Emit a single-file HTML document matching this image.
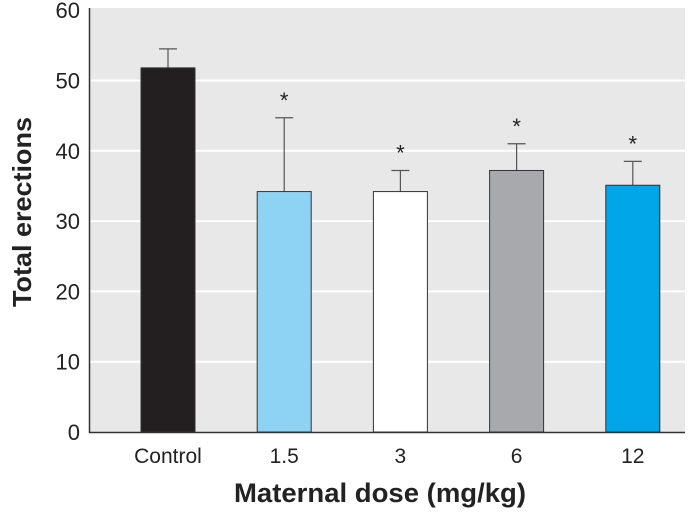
<!DOCTYPE html>
<html><head><meta charset="utf-8"><style>
body{margin:0;background:#fff;}
svg text{font-family:"Liberation Sans Narrow","Liberation Sans",sans-serif;}
</style></head><body>
<svg id="chart" width="690" height="512" xmlns="http://www.w3.org/2000/svg">
<rect x="90" y="8" width="595" height="424" fill="#e8e8e8"/>
<g id="grid"></g>
<g id="bars"></g>
<g id="yticks"></g>
<g id="xlabels"></g>
<line x1="89.5" y1="8" x2="89.5" y2="433" stroke="#333" stroke-width="1.5"/>
<line x1="89" y1="432.5" x2="685" y2="432.5" stroke="#333" stroke-width="1.5"/>
<text transform="translate(31,212) rotate(-90)" text-anchor="middle" font-size="26" font-weight="bold" fill="#222" textLength="190" lengthAdjust="spacingAndGlyphs">Total erections</text>
<text x="380" y="502" text-anchor="middle" font-size="27" font-weight="bold" fill="#222" textLength="292" lengthAdjust="spacingAndGlyphs">Maternal dose (mg/kg)</text>
</svg>
<script>
const categories=["Control","1.5","3","6","12"];
const means=[51.8,34.2,34.2,37.2,35.1];
const errors=[2.7,10.5,3.0,3.8,3.4];
const significant=[false,true,true,true,true];
const yTicks=[0,10,20,30,40,50,60];
const colors=["#231f20","#8fd3f4","#ffffff","#a7a9ac","#00a6e8"];
const NS="http://www.w3.org/2000/svg";
const y0=432, pxPerUnit=7.03;
function yScale(v){return y0-v*pxPerUnit;}
function xCenter(i){return 168+i*116.2;}
const barW=54;
function mk(tag,attrs,parent){const e=document.createElementNS(NS,tag);for(const k in attrs)e.setAttribute(k,attrs[k]);parent.appendChild(e);return e;}
const grid=document.getElementById('grid'),bars=document.getElementById('bars'),yt=document.getElementById('yticks'),xl=document.getElementById('xlabels');
yTicks.forEach(t=>{
  if(t>0&&t<60){const g=mk('line',{x1:90,x2:685,y1:yScale(t),y2:yScale(t),stroke:'#fff','stroke-width':2},grid);
  
  }
  const l=mk('text',{x:80,y:yScale(t)+8,'text-anchor':'end','font-size':22,fill:'#222'},yt);
  l.textContent=t;
  
  
});
categories.forEach((c,i)=>{
  const cx=xCenter(i),top=yScale(means[i]),et=yScale(means[i]+errors[i]);
  const eb=mk('line',{x1:cx,x2:cx,y1:et,y2:top,stroke:'#555','stroke-width':1.2},bars);
  
  
  const cap=mk('line',{x1:cx-9,x2:cx+9,y1:et,y2:et,stroke:'#555','stroke-width':1.2},bars);
  
  
  const r=mk('rect',{x:cx-barW/2,y:top,width:barW,height:y0-top,fill:colors[i],stroke:'#333','stroke-width':1},bars);
  
  
  if(significant[i]){const s=mk('text',{x:cx,y:et-10,'text-anchor':'middle','font-size':22,fill:'#222'},bars);
  s.textContent='*';
  
  }
  const l=mk('text',{x:cx,y:463,'text-anchor':'middle','font-size':21,fill:'#222'},xl);
  l.textContent=c;
  
  
});
</script>
</body></html>
